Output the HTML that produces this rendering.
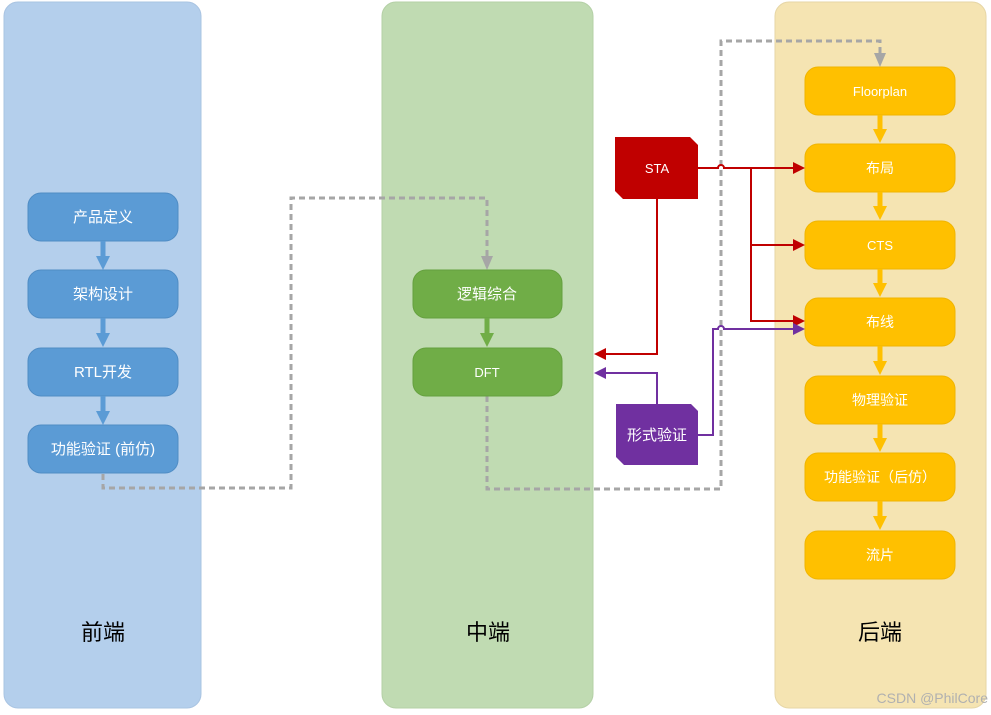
<!DOCTYPE html>
<html><head><meta charset="utf-8"><style>
html,body{margin:0;padding:0;background:#fff;}
svg{display:block;font-family:"Liberation Sans","Noto Sans CJK SC",sans-serif;}
</style></head><body>
<svg width="991" height="715" viewBox="0 0 991 715" xmlns="http://www.w3.org/2000/svg">
<defs>
<marker id="ab" markerWidth="10" markerHeight="10" refX="5" refY="5" orient="auto" markerUnits="userSpaceOnUse"><path d="M0,0 L10,5 L0,10 z" fill="#5b9bd5"/></marker>
</defs>
<rect x="4" y="2" width="197" height="706" rx="14" fill="#b4cfec" stroke="#a9c4e2"/>
<rect x="382" y="2" width="211" height="706" rx="14" fill="#c0dbb2" stroke="#b4d0a6"/>
<rect x="775" y="2" width="211" height="706" rx="14" fill="#f5e4b2" stroke="#e6d6a6"/>

<g font-size="22" fill="#000" text-anchor="middle">
<text x="103" y="640">前端</text><text x="488" y="640">中端</text><text x="880" y="640">后端</text>
</g>

<!-- grey dashed connectors -->
<g fill="none" stroke="#a6a6a6" stroke-width="3" stroke-dasharray="6,4">
<path d="M103,474 V488 H291 V198 H487 V258"/>
<path d="M487,396 V489 H721 V41 H880 V55"/>
</g>
<path d="M481,256 L493,256 L487,270 z" fill="#a6a6a6"/>
<path d="M874,53 L886,53 L880,67 z" fill="#a6a6a6"/>

<!-- left boxes -->
<g fill="#5b9bd5" stroke="#4f8cc4">
<rect x="28" y="193" width="150" height="48" rx="13"/>
<rect x="28" y="270" width="150" height="48" rx="13"/>
<rect x="28" y="348" width="150" height="48" rx="13"/>
<rect x="28" y="425" width="150" height="48" rx="13"/>
</g>
<g stroke="#5b9bd5" stroke-width="5"><path d="M103,241 V258 M103,318 V335 M103,396 V413"/></g>
<g fill="#5b9bd5"><path d="M96,256 H110 L103,270 z M96,333 H110 L103,347 z M96,411 H110 L103,425 z"/></g>
<g font-size="15" fill="#fff" text-anchor="middle">
<text x="103" y="222">产品定义</text><text x="103" y="299">架构设计</text>
<text x="103" y="377">RTL开发</text><text x="103" y="454">功能验证 (前仿)</text>
</g>

<!-- middle boxes -->
<g fill="#70ad47" stroke="#65a03f">
<rect x="413" y="270" width="149" height="48" rx="13"/>
<rect x="413" y="348" width="149" height="48" rx="13"/>
</g>
<path d="M487,318 V335" stroke="#70ad47" stroke-width="5"/>
<path d="M480,333 H494 L487,347 z" fill="#70ad47"/>
<g font-size="15" fill="#fff" text-anchor="middle">
<text x="487" y="299">逻辑综合</text><text x="487" y="377" font-size="13">DFT</text>
</g>

<!-- right boxes -->
<g fill="#ffc000" stroke="#f0b400">
<rect x="805" y="67" width="150" height="48" rx="13"/>
<rect x="805" y="144" width="150" height="48" rx="13"/>
<rect x="805" y="221" width="150" height="48" rx="13"/>
<rect x="805" y="298" width="150" height="48" rx="13"/>
<rect x="805" y="376" width="150" height="48" rx="13"/>
<rect x="805" y="453" width="150" height="48" rx="13"/>
<rect x="805" y="531" width="150" height="48" rx="13"/>
</g>
<g stroke="#ffc000" stroke-width="5"><path d="M880,115 V131 M880,192 V208 M880,269 V285 M880,346 V363 M880,424 V440 M880,501 V518"/></g>
<g fill="#ffc000"><path d="M873,129 H887 L880,143 z M873,206 H887 L880,220 z M873,283 H887 L880,297 z M873,361 H887 L880,375 z M873,438 H887 L880,452 z M873,516 H887 L880,530 z"/></g>
<g font-size="14" fill="#fff" text-anchor="middle">
<text x="880" y="96" font-size="13">Floorplan</text><text x="880" y="173">布局</text>
<text x="880" y="250" font-size="13">CTS</text><text x="880" y="327">布线</text>
<text x="880" y="405">物理验证</text><text x="880" y="482">功能验证（后仿）</text>
<text x="880" y="560">流片</text>
</g>

<!-- STA -->
<path d="M615,137 H690 L698,145 V199 H623 L615,191 z" fill="#c00000"/>
<text x="657" y="173" font-size="13" fill="#fff" text-anchor="middle">STA</text>
<g fill="none" stroke="#c00000" stroke-width="2">
<path d="M698,168 H718 A3,3 0 0 1 724,168 H795"/>
<path d="M751,168 V321 H795 M751,245 H795"/>
<path d="M657,199 V354 H604"/>
</g>
<g fill="#c00000"><path d="M793,162 L805,168 L793,174 z M793,239 L805,245 L793,251 z M793,315 L805,321 L793,327 z M606,348 L594,354 L606,360 z"/></g>

<!-- 形式验证 -->
<path d="M616,404 H691 L698,411 V465 H624 L616,457 z" fill="#7030a0"/>
<text x="657" y="440" font-size="15" fill="#fff" text-anchor="middle">形式验证</text>
<g fill="none" stroke="#7030a0" stroke-width="2">
<path d="M698,435 H713 V329 H718 A3,3 0 0 1 724,329 H795"/>
<path d="M657,404 V373 H604"/>
</g>
<g fill="#7030a0"><path d="M793,323 L805,329 L793,335 z M606,367 L594,373 L606,379 z"/></g>

<text x="988" y="703" font-size="14" fill="#b0b0b0" text-anchor="end">CSDN @PhilCore</text>
</svg>
</body></html>
